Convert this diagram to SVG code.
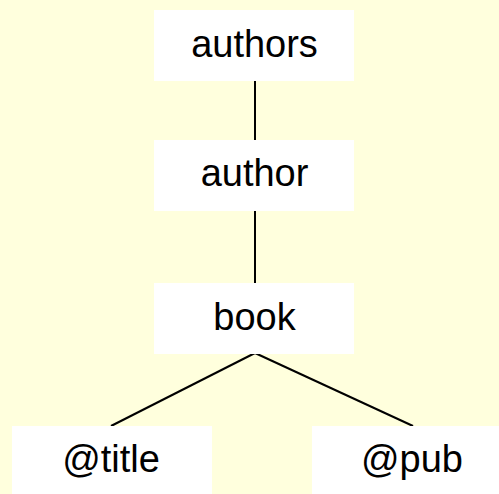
<svg xmlns="http://www.w3.org/2000/svg" width="499" height="494" viewBox="0 0 499 494">
<style>
.box{fill:#ffffff}
.lbl{font-family:"Liberation Sans",Arial,sans-serif;font-size:38px;fill:#000;text-anchor:middle}
.edge{stroke:#000;stroke-width:2;fill:none}
</style>
<rect width="499" height="494" fill="#ffffdd"/>
<g id="edges">
<line class="edge" x1="255" y1="81" x2="255" y2="140"/>
<line class="edge" x1="255" y1="211" x2="255" y2="283"/>
<line class="edge" x1="255" y1="353" x2="111" y2="426"/>
<line class="edge" x1="255" y1="353" x2="413" y2="426"/>
</g>
<g id="authors"><rect class="box" x="154" y="10" width="200" height="71"/><text class="lbl" x="254.5" y="57">authors</text></g>
<g id="author"><rect class="box" x="154" y="140" width="200" height="71"/><text class="lbl" x="254.5" y="186">author</text></g>
<g id="book"><rect class="box" x="154" y="283" width="200" height="71"/><text class="lbl" x="254.5" y="330">book</text></g>
<g id="title"><rect class="box" x="12" y="426" width="200" height="71"/><text class="lbl" x="111" y="472">@title</text></g>
<g id="pub"><rect class="box" x="312" y="426" width="200" height="71"/><text class="lbl" x="412" y="472">@pub</text></g>
</svg>
